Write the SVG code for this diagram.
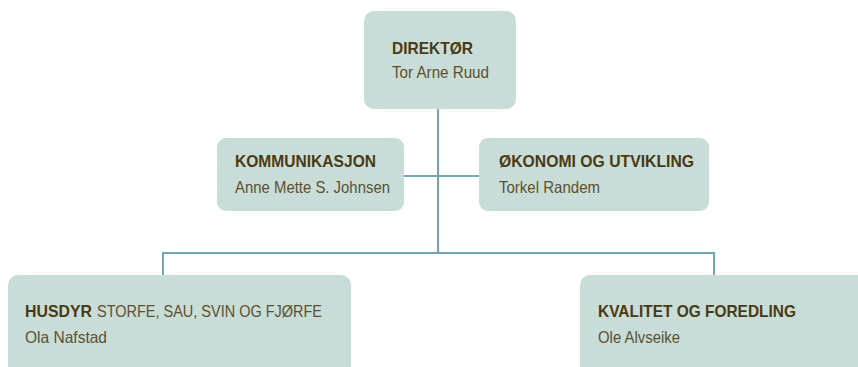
<svg xmlns="http://www.w3.org/2000/svg" width="858" height="367" viewBox="0 0 858 367">
  <style>
    .box { fill: #c9ddd8; }
    .link { stroke: #6ea9b1; stroke-width: 2; fill: none; }
    .title { font-family: "Liberation Sans", Arial, sans-serif; font-weight: bold; font-size: 16.5px; fill: #4a3912; }
    .name { font-family: "Liberation Sans", Arial, sans-serif; font-size: 16.5px; fill: #5c4f2e; }
  </style>

  <!-- connecting lines -->
  <g id="connectors">
    <line class="link" x1="438" y1="109" x2="438" y2="253"/>
    <line class="link" x1="404" y1="176" x2="479" y2="176"/>
    <polyline class="link" points="163,276 163,253 714,253 714,276"/>
  </g>

  <g id="direktor">
    <rect class="box" x="364" y="11" width="152" height="98" rx="10"/>
    <text class="title" x="392" y="54" textLength="81" lengthAdjust="spacingAndGlyphs">DIREKTØR</text>
    <text class="name" x="392" y="78" textLength="97" lengthAdjust="spacingAndGlyphs">Tor Arne Ruud</text>
  </g>

  <g id="kommunikasjon">
    <rect class="box" x="217" y="138" width="187" height="73" rx="9"/>
    <text class="title" x="235" y="167" textLength="141" lengthAdjust="spacingAndGlyphs">KOMMUNIKASJON</text>
    <text class="name" x="235" y="193" textLength="155" lengthAdjust="spacingAndGlyphs">Anne Mette S. Johnsen</text>
  </g>

  <g id="okonomi">
    <rect class="box" x="479" y="138" width="230" height="73" rx="9"/>
    <text class="title" x="499" y="167" textLength="195" lengthAdjust="spacingAndGlyphs">ØKONOMI OG UTVIKLING</text>
    <text class="name" x="499" y="193" textLength="101" lengthAdjust="spacingAndGlyphs">Torkel Randem</text>
  </g>

  <g id="husdyr">
    <rect class="box" x="8" y="275" width="343" height="110" rx="10"/>
    <text class="title" x="25" y="317" textLength="67" lengthAdjust="spacingAndGlyphs">HUSDYR</text>
    <text class="name" x="97" y="317" textLength="225" lengthAdjust="spacingAndGlyphs">STORFE, SAU, SVIN OG FJØRFE</text>
    <text class="name" x="25" y="343" textLength="82" lengthAdjust="spacingAndGlyphs">Ola Nafstad</text>
  </g>

  <g id="kvalitet">
    <rect class="box" x="580" y="275" width="300" height="110" rx="10"/>
    <text class="title" x="598" y="317" textLength="198" lengthAdjust="spacingAndGlyphs">KVALITET OG FOREDLING</text>
    <text class="name" x="598" y="343" textLength="82" lengthAdjust="spacingAndGlyphs">Ole Alvseike</text>
  </g>
</svg>
